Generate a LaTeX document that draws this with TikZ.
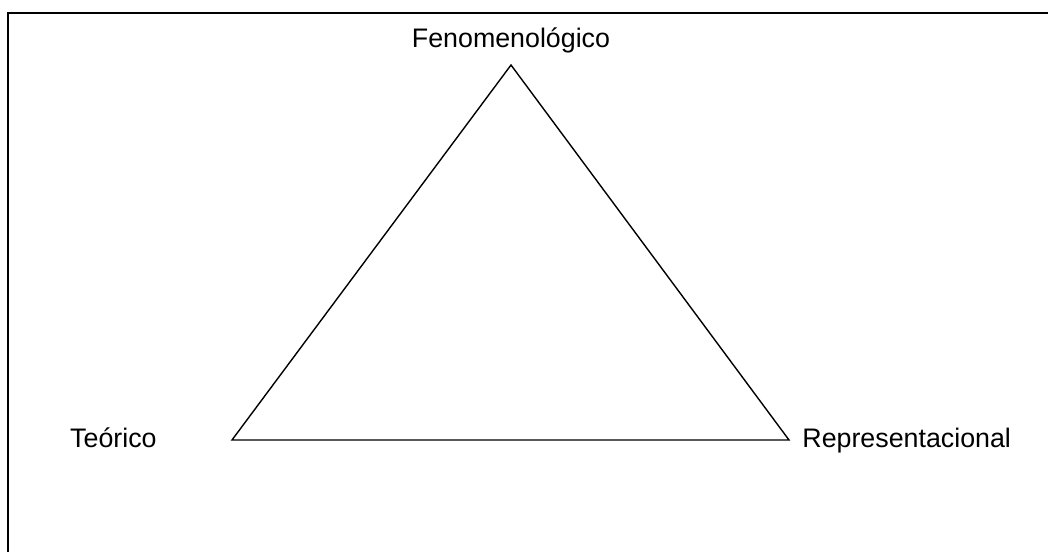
\documentclass[tikz,border=0pt]{standalone}
\usepackage{fontspec}
\setmainfont{Liberation Sans}
\usetikzlibrary{positioning}

\begin{document}
\begin{tikzpicture}[
  x=0.5pt,y=-0.5pt,
  label/.style={inner sep=0pt,font=\fontsize{13.4}{16}\selectfont},
  edge/.style={line width=0.7pt,line join=miter},
  frame/.style={line width=1pt},
]
  \useasboundingbox (0,0) rectangle (1048,552);
  % corners of the triangle
  \coordinate (fen) at (511,65);
  \coordinate (teo) at (232,440);
  \coordinate (rep) at (789,440);

  \node[label,anchor=base] (fenlbl) at (511,47) {Fenomenológico};
  \node[label,anchor=base east] (teolbl) at (157,447) {Teórico};
  \node[label,anchor=base west] (replbl) at (802,447) {Representacional};

  \draw[edge] (fen) -- (rep) -- (teo) -- cycle;
  % open frame, top and left side only
  \draw[frame] (1048,13) -- (8,13) -- (8,552);
\end{tikzpicture}
\end{document}
